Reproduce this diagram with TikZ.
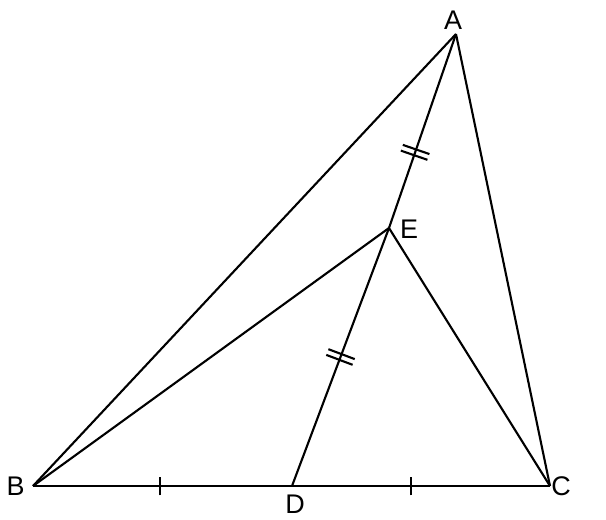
\documentclass[tikz,border=0pt]{standalone}
\usepackage{fontspec}
\setmainfont{Liberation Sans}
\usetikzlibrary{decorations.markings}
\begin{document}
\begin{tikzpicture}[x=0.03cm,y=-0.03cm]
	\tikzset{side/.style={line width=1.8pt},
		lbl/.style={font=\fontsize{23}{25}\selectfont, inner sep=0pt},
		onetick/.style={postaction={decorate}, decoration={markings, mark=at position #1 with {\draw[line width=1.8pt] (0,-8pt)--(0,8pt);}}},
		twotick/.style={postaction={decorate}, decoration={markings, mark=at position #1 with {\draw[line width=1.8pt] (-2.6pt,-12pt)--(-2.6pt,12pt) (2.6pt,-12pt)--(2.6pt,12pt);}}}}
	\useasboundingbox (0,0) rectangle (606,519);
	
	\coordinate (A) at (456,34);
	\coordinate (B) at (33,486);
	\coordinate (C) at (550,486);
	\coordinate (D) at (292,486);
	\coordinate (E) at (389,228);
	
	\node[lbl] (la) at (453,20) {A};
	\node[lbl] (lb) at (15.5,486) {B};
	\node[lbl] (lc) at (561,486) {C};
	\node[lbl] (ld) at (295,504) {D};
	\node[lbl] (le) at (409,229) {E};
	
	\draw[side] (A)--(B);
	\draw[side] (A)--(C);
	\draw[side] (B)--(E);
	\draw[side] (E)--(C);
	\draw[side, onetick=.49] (B)--(D);
	\draw[side, onetick=.46] (D)--(C);
	\draw[side, twotick=.61] (A)--(E);
	\draw[side, twotick=.5] (E)--(D);
\end{tikzpicture}
\end{document}
